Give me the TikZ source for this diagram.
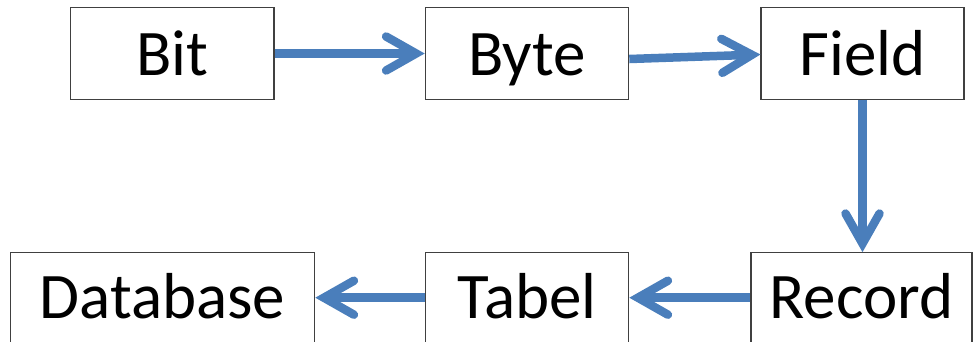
\documentclass[tikz,border=0pt]{standalone}
\usepackage{fontspec}
\setmainfont{Carlito}
\usetikzlibrary{arrows.meta}
\definecolor{flowblue}{RGB}{74,126,187}
\definecolor{boxline}{RGB}{64,64,64}
\tikzset{
  unitbox/.style={draw=boxline, line width=1.1pt, fill=white, inner sep=0pt,
    minimum height=92pt, text height=43pt, text depth=0pt,
    font=\fontsize{65}{70}\selectfont},
  lowbox/.style={unitbox, text depth=4.4pt},
  flow/.style={draw=flowblue, line width=8.5pt,
    -{Straight Barb[length=30pt, width=34pt, line cap=round, line join=miter]}},
}
\begin{document}
\begin{tikzpicture}[x=1pt, y=-1pt]
  \useasboundingbox (0,0) rectangle (974,341);
  \begin{scope}
    \clip (0,0) rectangle (974,341);
    % top row
    \node[unitbox, minimum width=203.5pt] (bit)   at (172.25,53.5) {Bit};
    \node[unitbox, minimum width=203.5pt] (byte)  at (527,53.5)    {Byte};
    \node[unitbox, minimum width=203pt]   (field) at (862.5,53.5)  {Field};
    % bottom row
    \node[lowbox, minimum width=304.5pt] (database) at (162.5,298.7) {Database};
    \node[lowbox, minimum width=203.5pt] (tabel)    at (527,298.7)   {Tabel};
    \node[lowbox, minimum width=221pt]   (record)   at (861.5,298.7) {Record};
    % connectors
    \draw[flow] (bit.east) -- (byte.west);
    \draw[flow] ([yshift=-5.5pt]byte.east) -- ([yshift=-1pt]field.west);
    \draw[flow] (field.south) -- (field.south |- record.north);
    \draw[flow] ([yshift=1pt]record.west) -- ([yshift=1pt]tabel.east);
    \draw[flow] ([yshift=1pt]tabel.west) -- ([yshift=1pt]database.east);
  \end{scope}
\end{tikzpicture}
\end{document}
